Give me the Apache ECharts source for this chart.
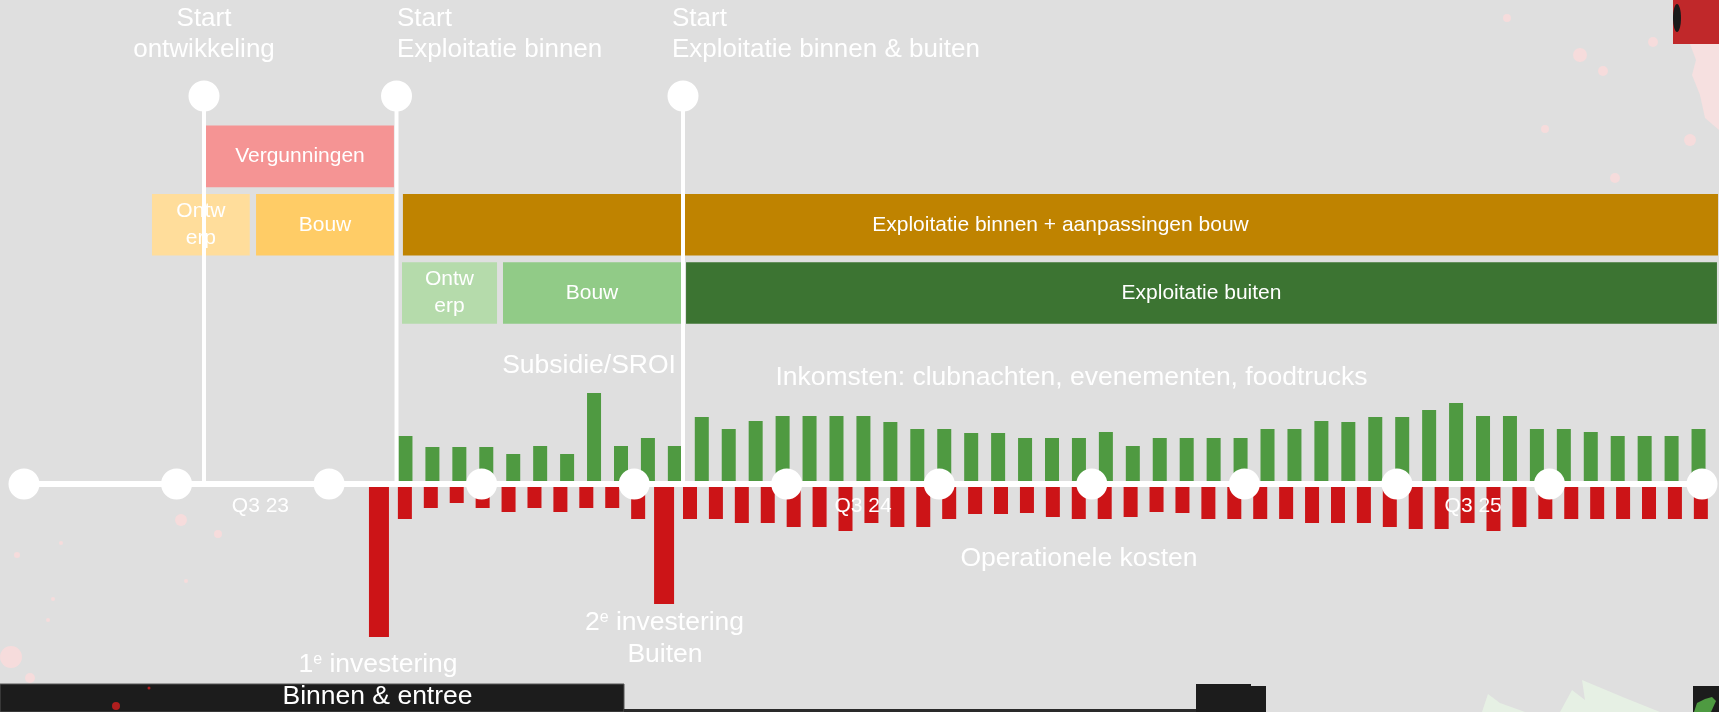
<!DOCTYPE html>
<html><head><meta charset="utf-8">
<script src="https://cdn.jsdelivr.net/npm/echarts@6/dist/echarts.min.js"></script>
<style>html,body{margin:0;padding:0;background:#dfdfdf;overflow:hidden}#c{width:1719px;height:712px}</style>
</head><body><div id="c"></div>
<script>
// ---------------- DATA ----------------
const quarterPoints = [0, 1, 2, 3, 4, 5, 6, 7, 8, 9, 10, 11];
const quarterLabelAt = [1.55, 5.5, 9.5];
const quarterLabels = ['Q3 23', 'Q3 24', 'Q3 25'];

const milestoneAt = [1.18, 2.442, 4.32];
const milestoneTitle = ['Start', 'Start', 'Start'];
const milestoneSub = ['ontwikkeling', 'Exploitatie binnen', 'Exploitatie binnen & buiten'];

const phaseRows = ['Vergunningen', 'Binnen', 'Buiten'];
const phaseNames = ['Vergunningen', 'Ontw\nerp', 'Bouw', 'Exploitatie binnen + aanpassingen bouw', 'Ontw\nerp', 'Bouw', 'Exploitatie buiten'];
const phaseRowIdx = [0, 1, 1, 1, 2, 2, 2];
const phaseStart = [1.193, 0.839, 1.521, 2.484, 2.478, 3.140, 4.340];
const phaseEnd = [2.425, 1.480, 2.425, 11.105, 3.101, 4.307, 11.098];

const incomeValues = [48, 37, 37, 37, 30, 38, 30, 91, 38, 46,
  38, 67, 55, 63, 68, 68, 68, 68, 62, 55,
  55, 51, 51, 46, 46, 46, 52, 38, 46, 46,
  46, 46, 55, 55, 63, 62, 67, 67, 74, 81,
  68, 68, 55, 55, 52, 48, 48, 48, 55];
const costValues = ['-', -35, -24, -19, -24, -28, -24, -28, -24, -24, -35, '-',
  -35, -35, -39, -39, -43, -43, -47, -39, -43, -43,
  -35, -30, -30, -29, -33, -35, -35, -33, -28, -29,
  -35, -35, -35, -35, -39, -39, -39, -43, -45, -45,
  -39, -47, -43, -35, -35, -35, -35, -35, -35, -35];
const investAt = [0, 11];
const investValues = [-153, -120];
const subsidyIndex = 7;

const incomePeriods = incomeValues.map((_, i) => 'i' + (i + 1));
const costPeriods = costValues.map((_, i) => 'c' + (i + 1));

// ---------------- STYLE ----------------
const FONT = '"Liberation Sans", Arial, Helvetica, sans-serif';
const WHITE = '#ffffff';
const phaseColors = ['#F59494', '#FFDD9B', '#FFCC66', '#BF8300', '#B5DBAB', '#91CB87', '#3C7432'];
const milestoneLabelStyle = [{align: 'center', dx: 0}, {align: 'left', dx: 0.5}, {align: 'left', dx: -11}];
const MILESTONE_RISE = 388;

function txt(x, y, text, size, align, extra) {
  return Object.assign({type: 'text', x: x, y: y, z: 100,
    style: {text: text, fill: WHITE, font: size + 'px ' + FONT,
      align: align || 'center', textAlign: align || 'center',
      verticalAlign: 'middle', textVerticalAlign: 'middle'}}, extra || {});
}
function supTxt(x, y, lead, rest) {
  return {type: 'text', x: x, y: y, z: 100,
    style: {text: '{n|' + lead + '}{s|e}{n|' + rest + '}',
      align: 'center', textAlign: 'center', verticalAlign: 'middle', textVerticalAlign: 'middle',
      rich: {n: {fontSize: 26.5, fontFamily: FONT, fill: WHITE, lineHeight: 27},
             s: {fontSize: 16, fontFamily: FONT, fill: WHITE, verticalAlign: 'top', lineHeight: 16}}}};
}

const chart = echarts.init(document.getElementById('c'));

const splatter = [[1507,18,4],[1580,55,7],[1603,71,5],[1545,129,4],[1615,178,5],[1653,42,5],[1690,140,6],
  [181,520,6],[218,534,4],[17,555,3],[61,543,2],[53,599,2],[186,581,2],[11,657,11],[30,678,5],[48,620,2]];

const graphics = [];
splatter.forEach(s => graphics.push({type: 'circle', z: 0, shape: {cx: s[0], cy: s[1], r: s[2]}, style: {fill: '#F6DCDC'}}));
graphics.push(
  {type: 'polygon', z: 0, shape: {points: [[1690,44],[1719,44],[1719,130],[1705,118],[1700,95],[1692,75],[1696,60]]}, style: {fill: '#F6E0E0'}},
  {type: 'rect', z: 1, shape: {x: 1673, y: 0, width: 46, height: 44}, style: {fill: '#C0282A'}},
  {type: 'ellipse', z: 1, shape: {cx: 1677, cy: 18, rx: 4, ry: 14}, style: {fill: '#1a1a1a'}},
  {type: 'polygon', z: 0, shape: {points: [[1482,712],[1488,694],[1500,703],[1525,712]]}, style: {fill: '#E6F0E4'}},
  {type: 'polygon', z: 0, shape: {points: [[1560,712],[1572,690],[1585,700],[1582,680],[1625,698],[1660,712]]}, style: {fill: '#E6F0E4'}},
  {type: 'rect', z: 1, shape: {x: 0, y: 684, width: 624, height: 28}, style: {fill: '#1c1c1c', stroke: '#555', lineWidth: 1}},
  {type: 'rect', z: 1, shape: {x: 624, y: 709, width: 572, height: 3}, style: {fill: '#2a2a2a'}},
  {type: 'rect', z: 1, shape: {x: 1196, y: 684, width: 55, height: 28}, style: {fill: '#1c1c1c'}},
  {type: 'rect', z: 1, shape: {x: 1251, y: 686, width: 15, height: 26}, style: {fill: '#1c1c1c'}},
  {type: 'rect', z: 1, shape: {x: 1693, y: 686, width: 26, height: 26}, style: {fill: '#1c1c1c'}},
  {type: 'polygon', z: 2, shape: {points: [[1694,712],[1697,703],[1705,699],[1712,697],[1716,701],[1711,712]]}, style: {fill: '#4E9A41'}},
  {type: 'circle', z: 2, shape: {cx: 116, cy: 706, r: 4}, style: {fill: '#B01E1E'}},
  {type: 'circle', z: 2, shape: {cx: 149, cy: 688, r: 1.5}, style: {fill: '#B01E1E'}},
  txt(1071.5, 378, 'Inkomsten: clubnachten, evenementen, foodtrucks', 26.5),
  txt(1079, 559, 'Operationele kosten', 26.5),
  supTxt(378, 665, '1', ' investering'),
  txt(377.5, 697, 'Binnen & entree', 26.5),
  supTxt(664.5, 623, '2', ' investering'),
  txt(665, 654.5, 'Buiten', 26.5)
);

const option = {
  backgroundColor: '#DFDFDF',
  animation: false,
  grid: [
    {left: 24, right: 17, top: 0, bottom: 0},
    {left: 366, right: 5.2, top: 0, bottom: 0},
    {left: 392, right: 7, top: 0, bottom: 0},
    {left: 24, right: 17, top: 122.2, height: 205.05}
  ],
  xAxis: [
    {gridIndex: 0, type: 'value', min: 0, max: 11, show: false},
    {gridIndex: 1, type: 'category', data: costPeriods, show: false},
    {gridIndex: 2, type: 'category', data: incomePeriods, show: false},
    {gridIndex: 3, type: 'value', min: 0, max: 11, show: false},
    {gridIndex: 1, type: 'category', data: costPeriods, show: false}
  ],
  yAxis: [
    {gridIndex: 0, type: 'value', min: -228, max: 484, show: false},
    {gridIndex: 1, type: 'value', min: -228, max: 484, show: false},
    {gridIndex: 2, type: 'value', min: -228, max: 484, show: false},
    {gridIndex: 3, type: 'category', data: phaseRows, inverse: true, show: false}
  ],
  graphic: {elements: graphics},
  series: [
    {
      name: 'Fasen', type: 'custom', xAxisIndex: 3, yAxisIndex: 3, z: 3,
      data: phaseNames.map((n, i) => [phaseStart[i], phaseEnd[i], phaseRowIdx[i], i]),
      renderItem: function (params, api) {
        const i = api.value(3);
        const a = api.coord([api.value(0), api.value(2)]);
        const b = api.coord([api.value(1), api.value(2)]);
        const h = api.size([0, 1])[1] * 0.9;
        const x = a[0], w = b[0] - a[0];
        return {type: 'group', children: [
          {type: 'rect', shape: {x: x, y: a[1] - h / 2, width: w, height: h}, style: {fill: phaseColors[i]}},
          {type: 'text', x: x + w / 2, y: a[1], style: {text: phaseNames[i], fill: WHITE, font: '21px ' + FONT,
            align: 'center', textAlign: 'center', verticalAlign: 'middle', textVerticalAlign: 'middle', lineHeight: 27}}
        ]};
      }
    },
    {
      name: 'Operationele kosten', type: 'bar', xAxisIndex: 1, yAxisIndex: 1, barWidth: 14, z: 4,
      itemStyle: {color: '#CC1417'}, data: costValues
    },
    {
      name: 'Investering', type: 'bar', xAxisIndex: 4, yAxisIndex: 1, barWidth: 20, z: 4,
      itemStyle: {color: '#CC1417'}, data: investAt.map((c, i) => [c, investValues[i]])
    },
    {
      name: 'Inkomsten', type: 'bar', xAxisIndex: 2, yAxisIndex: 2, barWidth: 14, z: 4,
      itemStyle: {color: '#4F9A41'},
      data: incomeValues.map((v, i) => i === subsidyIndex ? {value: v, label: {show: true, position: 'top', distance: 14,
        offset: [-5, 0], formatter: 'Subsidie/SROI', color: WHITE, fontSize: 26.5, fontFamily: FONT}} : v)
    },
    {
      name: 'Mijlpalen', type: 'custom', xAxisIndex: 0, yAxisIndex: 0, z: 6,
      data: milestoneAt.map((x, i) => [x, i]),
      renderItem: function (params, api) {
        const i = api.value(1);
        const base = api.coord([api.value(0), 0]);
        const top = api.coord([api.value(0), MILESTONE_RISE]);
        const ls = milestoneLabelStyle[i];
        const tx = top[0] + ls.dx;
        const st = (t) => ({text: t, fill: WHITE, font: '26px ' + FONT, align: ls.align, textAlign: ls.align,
          verticalAlign: 'middle', textVerticalAlign: 'middle'});
        return {type: 'group', children: [
          {type: 'line', shape: {x1: base[0], y1: base[1] - 3, x2: top[0], y2: top[1]}, style: {stroke: WHITE, lineWidth: 4}},
          {type: 'circle', shape: {cx: top[0], cy: top[1], r: 15.5}, style: {fill: WHITE}},
          {type: 'text', x: tx, y: top[1] - 77.5, style: st(milestoneTitle[i])},
          {type: 'text', x: tx, y: top[1] - 46.5, style: st(milestoneSub[i])}
        ]};
      }
    },
    {
      name: 'Tijdlijn', type: 'line', xAxisIndex: 0, yAxisIndex: 0, z: 10,
      data: quarterPoints.map(q => [q, 0]),
      symbol: 'circle', symbolSize: 31, showSymbol: true,
      lineStyle: {color: WHITE, width: 6}, itemStyle: {color: WHITE}
    },
    {
      name: 'Kwartalen', type: 'custom', xAxisIndex: 0, yAxisIndex: 0, z: 11,
      data: quarterLabelAt.map((x, i) => [x, i]),
      renderItem: function (params, api) {
        const p = api.coord([api.value(0), 0]);
        return {type: 'text', x: p[0], y: p[1] + 22.5, style: {text: quarterLabels[api.value(1)], fill: WHITE,
          font: '21px ' + FONT, align: 'center', textAlign: 'center', verticalAlign: 'middle', textVerticalAlign: 'middle'}};
      }
    }
  ]
};
chart.setOption(option);
</script>
</body></html>
